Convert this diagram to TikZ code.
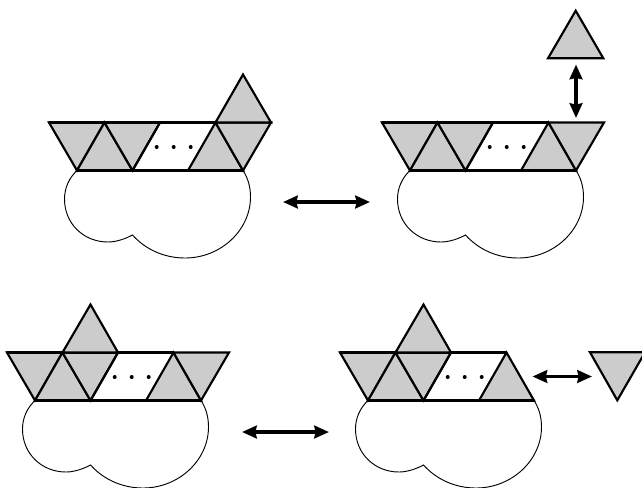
\documentclass[tikz,border=0pt]{standalone}
\usetikzlibrary{arrows.meta}
\tikzset{
  x=0.75pt,y=-0.75pt,
  tri/.style={draw=black,fill=black!20,line width=1.6pt,line join=miter},
  edge line/.style={draw=black,line width=1.6pt,line cap=round},
  blob/.style={draw=black,line width=0.7pt},
  dot/.style={circle,fill=black,inner sep=0pt,minimum size=3pt},
  swap arrow/.style={draw=black,line width=2.5pt,{Stealth[length=11pt,width=9.5pt,inset=1pt]}-{Stealth[length=11pt,width=9.5pt,inset=1pt]},shorten >=0pt,shorten <=0pt}
}
\newcommand{\Strip}{%
  \draw[tri] (49,122.5)--(104.5,122.5)--(77,170.5)--cycle;
  \draw[tri] (77,170.5)--(132.5,170.5)--(104.5,122.5)--cycle;
  \draw[tri] (104.5,122.5)--(160,122.5)--(132.5,170.5)--cycle;
  \draw[tri] (188,170.5)--(243,170.5)--(215.5,122.5)--cycle;
  \draw[edge line] (49,122.5)--(215.5,122.5);
  \draw[edge line] (77,170.5)--(243,170.5);
  \draw[edge line] (160,122.5)--(132.5,170.5);
  \node[dot] at (156.7,147) {};
  \node[dot] at (173.7,147) {};
  \node[dot] at (190.7,147) {};
  \draw[blob] (77,170.5) .. controls (69,178) and (64.5,188) .. (64.5,199)
    .. controls (64.5,224) and (84,242) .. (108,242)
    .. controls (116,242) and (125,239) .. (132.5,235)
    .. controls (146,250) and (165,258) .. (185,258)
    .. controls (221,258) and (250.5,230) .. (250.5,197)
    .. controls (250.5,187) and (248,178) .. (243,170.5);
}
\newcommand{\EndTri}{\draw[tri] (215.5,122.5)--(271,122.5)--(243,170.5)--cycle;}
\begin{document}
\begin{tikzpicture}
\useasboundingbox (0,0) rectangle (642,487);
% top left
\begin{scope}
  \Strip\EndTri
  \draw[tri] (215.5,122.5)--(271,122.5)--(243,74.5)--cycle;
\end{scope}
% top right
\begin{scope}[shift={(333,0)}]
  \Strip\EndTri
\end{scope}
% bottom left
\begin{scope}[shift={(-42,230)}]
  \Strip\EndTri
  \draw[tri] (104.5,122.5)--(160,122.5)--(132.5,74.5)--cycle;
\end{scope}
% bottom right
\begin{scope}[shift={(291,230)}]
  \Strip
  \draw[tri] (104.5,122.5)--(160,122.5)--(132.5,74.5)--cycle;
\end{scope}
% free triangles
\draw[tri] (548,58.3)--(603.3,58.3)--(575.7,10.7)--cycle;
\begin{scope}
\clip (0,0) rectangle (642,487);
\draw[tri] (590,352.3)--(645,352.3)--(617.3,400.3)--cycle;
\end{scope}
% arrows
\coordinate (a1) at (283,202); \coordinate (a2) at (370,202);
\coordinate (b1) at (576,64.5);  \coordinate (b2) at (576,118);
\coordinate (c1) at (242,432); \coordinate (c2) at (329,432);
\coordinate (d1) at (532.5,376.5); \coordinate (d2) at (592,376.5);
\draw[swap arrow] (a1)--(a2);
\draw[swap arrow] (b1)--(b2);
\draw[swap arrow] (c1)--(c2);
\draw[swap arrow] (d1)--(d2);
\end{tikzpicture}
\end{document}
